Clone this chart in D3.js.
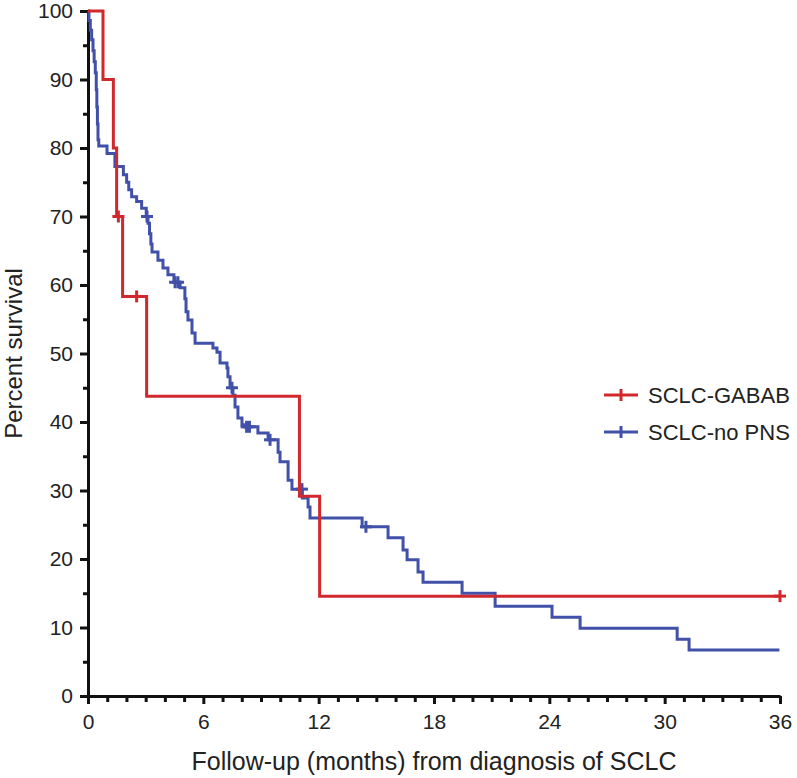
<!DOCTYPE html>
<html>
<head>
<meta charset="utf-8">
<script src="https://cdn.jsdelivr.net/npm/d3@7"></script>
<style>
  html, body { margin: 0; padding: 0; background: #fff; }
  svg { display: block; font-family: "Liberation Sans", Arial, Helvetica, sans-serif; }
</style>
</head>
<body>
<svg id="km-chart" width="797" height="778"></svg>
<script>
// step points: [month, percent surviving after the step]
const gababSteps = [
  [0, 100], [0.78, 90], [1.32, 80], [1.49, 70], [1.80, 58.33],
  [3.05, 43.75], [11.0, 29.17], [12.05, 14.58], [36, 14.58]
];
const gababCensored = [1.58, 2.53, 36];

const noPnsSteps = [
  [0, 100], [0.05, 98.6], [0.12, 97.2], [0.19, 95.8], [0.26, 94.2],
  [0.32, 92.6], [0.38, 91.0], [0.43, 88.5], [0.46, 86.0], [0.49, 83.5],
  [0.52, 81.2], [0.56, 80.3], [0.99, 79.2], [1.40, 77.3], [1.84, 76.1],
  [2.01, 75.0], [2.12, 73.9], [2.27, 72.9], [2.53, 72.2], [2.79, 71.2],
  [3.03, 70.0], [3.12, 69.0], [3.20, 67.5], [3.27, 66.0], [3.33, 64.8],
  [3.64, 63.6], [3.90, 62.5], [4.16, 61.5], [4.47, 60.4], [4.79, 59.6],
  [5.04, 58.0], [5.10, 56.1], [5.20, 54.9], [5.41, 53.0], [5.57, 51.5],
  [6.50, 50.8], [6.71, 50.2], [6.87, 48.6], [7.23, 47.9], [7.28, 46.6],
  [7.39, 45.0], [7.54, 43.9], [7.65, 42.2], [7.80, 40.6], [8.01, 39.6],
  [8.12, 39.3], [8.84, 38.4], [9.37, 37.4], [9.89, 35.6], [9.99, 34.2],
  [10.41, 31.5], [10.61, 30.2], [11.15, 28.9], [11.45, 27.6], [11.55, 26.0],
  [14.26, 24.7], [15.61, 23.1], [16.39, 21.3], [16.60, 19.9], [17.17, 18.1],
  [17.43, 16.6], [19.46, 15.0], [21.18, 13.1], [24.14, 11.5], [25.60, 9.9],
  [30.65, 8.3], [31.27, 6.7], [35.97, 6.7]
];
const noPnsCensored = [3.07, 4.53, 4.68, 7.49, 8.25, 8.40, 9.47, 11.13, 14.46];

const xMajorTicks = [0, 6, 12, 18, 24, 30, 36];
const yMajorTicks = [0, 10, 20, 30, 40, 50, 60, 70, 80, 90, 100];

const seriesNames = ["SCLC-GABAB", "SCLC-no PNS"];
const seriesColors = ["#d1282e", "#4150a8"];

const svg = d3.select("#km-chart");
const plot = { left: 88, right: 780, top: 11, bottom: 696 };

const x = d3.scaleLinear().domain([0, 36]).range([plot.left, plot.right]);
const y = d3.scaleLinear().domain([0, 100]).range([plot.bottom, plot.top]);

// minor ticks first, then the major axes on top
svg.append("g")
  .attr("transform", `translate(${plot.left},0)`)
  .call(d3.axisLeft(y).tickValues(d3.range(5, 100, 10)).tickSize(5).tickFormat(""))
  .call((g) => g.select(".domain").remove())
  .call((g) => g.selectAll("line").attr("stroke", "#111").attr("stroke-width", 3));

svg.append("g")
  .attr("transform", `translate(0,${plot.bottom})`)
  .call(d3.axisBottom(x).tickValues(d3.range(1, 36).filter((m) => m % 6 !== 0)).tickSize(6).tickFormat(""))
  .call((g) => g.select(".domain").remove())
  .call((g) => g.selectAll("line").attr("stroke", "#111").attr("stroke-width", 3));

const yAxis = svg.append("g")
  .attr("transform", `translate(${plot.left},0)`)
  .call(d3.axisLeft(y).tickValues(yMajorTicks).tickSize(8).tickSizeOuter(0).tickPadding(7));

const xAxis = svg.append("g")
  .attr("transform", `translate(0,${plot.bottom})`)
  .call(d3.axisBottom(x).tickValues(xMajorTicks).tickSize(8).tickSizeOuter(0).tickPadding(10));

[yAxis, xAxis].forEach((g) => {
  g.select(".domain").attr("stroke", "#111").attr("stroke-width", 3);
  g.selectAll(".tick line").attr("stroke", "#111").attr("stroke-width", 3);
  g.selectAll(".tick text")
    .attr("font-size", 21)
    .attr("fill", "#222")
    .attr("font-family", "Liberation Sans, Arial, sans-serif");
});

svg.append("text")
  .attr("transform", `translate(22,${(plot.top + plot.bottom) / 2}) rotate(-90)`)
  .attr("text-anchor", "middle")
  .attr("font-size", 24)
  .attr("fill", "#222")
  .text("Percent survival");

svg.append("text")
  .attr("x", (plot.left + plot.right) / 2)
  .attr("y", 770)
  .attr("text-anchor", "middle")
  .attr("font-size", 25)
  .attr("fill", "#222")
  .text("Follow-up (months) from diagnosis of SCLC");

const stepLine = d3.line()
  .x((d) => x(d[0]))
  .y((d) => y(d[1]))
  .curve(d3.curveStepAfter);

function levelAt(steps, t) {
  let value = steps[0][1];
  for (const [month, pct] of steps) {
    if (month <= t) value = pct;
  }
  return value;
}

const series = [
  { steps: noPnsSteps, censored: noPnsCensored, color: seriesColors[1] },
  { steps: gababSteps, censored: gababCensored, color: seriesColors[0] }
];

const marker = 12;

series.forEach((s) => {
  svg.append("path")
    .datum(s.steps)
    .attr("fill", "none")
    .attr("stroke", s.color)
    .attr("stroke-width", 3)
    .attr("d", stepLine);

  const marks = svg.append("g")
    .attr("stroke", s.color)
    .attr("stroke-width", 3)
    .selectAll("g")
    .data(s.censored)
    .join("g")
    .attr("transform", (t) => `translate(${x(t)},${y(levelAt(s.steps, t))})`);

  marks.append("line").attr("x1", -marker / 2).attr("x2", marker / 2);
  marks.append("line").attr("y1", -marker / 2).attr("y2", marker / 2);
});

// legend
const legend = svg.append("g")
  .selectAll("g")
  .data(seriesNames)
  .join("g")
  .attr("transform", (d, i) => `translate(604,${395 + i * 37})`);

legend.append("line")
  .attr("x1", 0).attr("x2", 34)
  .attr("stroke", (d, i) => seriesColors[i])
  .attr("stroke-width", 3);

legend.append("line")
  .attr("x1", 17).attr("x2", 17)
  .attr("y1", -marker / 2).attr("y2", marker / 2)
  .attr("stroke", (d, i) => seriesColors[i])
  .attr("stroke-width", 3);

legend.append("text")
  .attr("x", 44)
  .attr("dy", "0.36em")
  .attr("font-size", 22)
  .attr("fill", "#222")
  .text((d) => d);
</script>
</body>
</html>
